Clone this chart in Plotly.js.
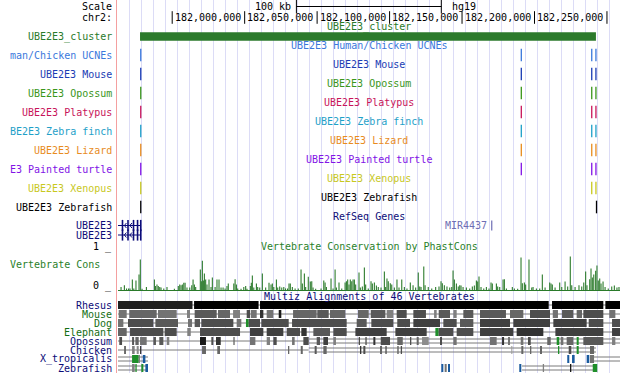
<!DOCTYPE html>
<html><head><meta charset="utf-8">
<script src="https://cdn.plot.ly/plotly-3.0.1.min.js"></script>
<style>html,body{margin:0;padding:0;background:#fff}#chart{width:620px;height:373px}</style>
</head><body><div id="chart"></div>
<script>
// ===================== DATA (chr2, hg19, positions in kb) =====================
const viewStart = 181912.6, viewEnd = 182259.0;
const rulerTicks  = [181950, 182000, 182050, 182100, 182150, 182200, 182250];
const rulerLabels = ['', '182,000,000', '182,050,000', '182,100,000', '182,150,000', '182,200,000', '182,250,000'];
const scaleBarStart = 182035.7, scaleBarKb = 100;

const clusterStart = 181927.8, clusterEnd = 182242.4;

const trackTitles = ['UBE2E3 Human/Chicken UCNEs','UBE2E3 Mouse','UBE2E3 Opossum','UBE2E3 Platypus',
  'UBE2E3 Zebra finch','UBE2E3 Lizard','UBE2E3 Painted turtle','UBE2E3 Xenopus','UBE2E3 Zebrafish'];
const trackLabels = ['man/Chicken UCNEs','UBE2E3 Mouse','UBE2E3 Opossum','UBE2E3 Platypus',
  'BE2E3 Zebra finch','UBE2E3 Lizard','E3 Painted turtle','UBE2E3 Xenopus','UBE2E3 Zebrafish'];
const ucneHumanChicken  = [181928.3, 182190.9, 182239.5, 182242.4];
const ucneMouse         = [181928.3, 182190.9, 182239.5, 182242.4];
const ucneOpossum       = [181928.3, 182190.9, 182239.5, 182242.4];
const ucnePlatypus      = [181928.3, 182190.9, 182239.5, 182242.4];
const ucneZebraFinch    = [181928.3, 182190.9, 182239.5, 182242.4];
const ucneLizard        = [181928.3, 182190.9, 182239.5, 182242.4];
const ucnePaintedTurtle = [181928.3, 182190.9, 182239.5, 182242.4];
const ucneXenopus       = [181928.3, 182239.5, 182242.4];
const ucneZebrafish     = [181928.3, 182242.8];

const geneName = 'UBE2E3';
const geneTxStart = 181900.0, geneTxEnd = 181928.3;
const geneExons = [181915.7, 181919.5, 181923.3, 181926.1, 181928.3];
const mirName = 'MIR4437', mirPos = 182170.5;

const consPos = [
181914.7,181917.0,181918.5,181919.9,181920.9,181922.5,181923.5,181925.0,181927.1,181928.0,
181929.2,181932.2,181937.7,181938.4,181939.5,181940.4,181941.4,181942.3,181944.2,181946.4,
181951.5,181954.2,181955.2,181956.1,181957.0,181958.0,181958.9,181960.2,181962.1,181963.5,
181964.4,181965.3,181966.2,181969.4,181970.1,181970.8,181971.5,181972.2,181973.1,181974.0,
181975.4,181976.8,181977.7,181979.6,181980.9,181982.3,181983.7,181985.1,181986.5,181987.8,
181988.7,181992.5,181993.4,181994.3,181995.2,181997.5,181999.4,182000.7,182001.6,182003.9,
182004.6,182005.3,182006.3,182008.1,182009.0,182010.4,182012.2,182014.5,182016.8,182018.2,
182019.1,182020.1,182021.9,182022.8,182024.2,182025.6,182027.0,
182028.2,182029.6,182030.6,182031.5,182032.9,182034.8,182037.0,182038.9,182039.8,182041.2,
182042.1,182043.9,182045.3,182046.3,182047.2,182049.0,182052.7,182054.6,182055.5,182056.4,
182059.6,182061.0,182062.4,182063.3,182065.1,182067.0,182069.3,182070.2,182071.1,182072.0,
182072.9,182073.9,182074.8,182075.7,182076.6,182078.9,182079.8,182081.2,182082.6,182083.5,
182085.3,182087.2,182088.1,182089.5,182090.9,182092.2,182094.1,182096.4,182097.3,182098.2,
182099.1,182100.5,182101.5,182103.3,182105.1,182106.5,182108.4,182110.2,182112.0,182114.3,
182116.2,182118.0,182119.8,182120.8,182121.7,182123.6,182124.5,182126.7,182129.1,182131.8,
182134.1,182135.5,182136.4,182137.8,182139.6,182141.5,182142.9,
182143.8,182144.7,182146.1,182147.4,182148.4,182149.3,182150.7,182153.0,182155.3,182157.1,
182158.5,182159.9,182160.8,182161.7,182163.1,182165.0,182166.8,182168.6,182170.0,182170.9,
182173.7,182174.6,182176.0,182178.3,182179.2,182180.6,182184.7,182186.1,182188.4,182190.7,
182191.6,182193.0,182193.9,182196.2,182198.1,182199.0,182201.3,182203.6,182205.4,182207.3,
182210.5,182211.4,182212.3,182214.2,182217.4,182218.8,182221.1,182222.9,182224.7,182225.7,
182228.0,182230.7,182232.6,182234.0,182235.3,182236.2,182238.1,182239.0,182239.9,182240.9,
182242.2,182243.1,182244.0,182245.0,182245.9,182247.3,182248.7,182250.9,182253.3,182255.1,
182256.9,182258.3];
const consVal = [
.075,.12,.04,.04,.04,.26,.04,.24,.39,.76,
.03,.075,.26,.10,.14,.10,.075,.06,.04,.075,
.03,.10,.14,.12,.14,.18,.18,.06,.06,.12,
.26,.14,.075,.51,.22,.73,.24,.41,.26,.14,
.26,.075,.31,.075,.26,.26,.06,.06,.04,.10,
.16,.16,.27,.14,.04,.03,.075,.10,.03,.10,
.18,.36,.06,.16,.075,.06,.41,.06,.18,.14,
.16,.075,.26,.06,.09,.06,.075,
.04,.04,.16,.16,.075,.04,.04,.51,.16,.41,
.075,.33,.21,.22,.06,.03,.04,.24,.19,.075,
.29,.04,.51,.06,.19,.04,.19,.22,.26,.14,
.26,.22,.26,.26,.14,.44,.06,.09,.56,.14,
.04,.22,.16,.19,.11,.075,.06,.46,.075,.29,
.22,.17,.14,.06,.26,.06,.26,.075,.04,.19,
.12,.06,.44,.09,.075,.59,.12,.075,.04,.075,
.09,.22,.17,.12,.09,.06,.075,
.49,.26,.16,.09,.12,.11,.075,.06,.04,.09,
.11,.24,.21,.34,.075,.04,.075,.04,.19,.16,
.16,.09,.075,.26,.27,.04,.075,.04,.03,.81,
.17,.19,.14,.76,.06,.075,.04,.04,.39,.06,
.19,.16,.14,.06,.19,.075,.21,.09,.84,.12,
.075,.12,.09,.19,.46,.12,.27,.54,.31,.39,
.48,.61,.24,.29,.16,.21,.075,.04,.09,.11,
.06,.075];

// Multiz blocks: [start, end, gray level (0 black .. 1 white) | 'g' green | 'b' blue]
const mzRhesus = [[181912.6,181964.0,.12],[181965.1,182009.6,0],[182010.6,182209.8,0],[182212.1,182247.5,0],[182248.9,182259.0,0]];
const mzMouse = [[181913.1,181918.6,.45],[181920.4,181939.3,.4],[181940.2,181953.1,.45],[181960.2,181962.3,.5],[181965.5,181980.7,.35],
 [181981.6,181989.9,.4],[181992.0,181996.8,.5],[182001.4,182003.7,.3],[182004.2,182008.3,.45],[182010.6,182012.9,.2],
 [182015.2,182019.8,.45],[182023.5,182025.3,.1],[182033.4,182049.7,.4],[182050.1,182058.0,.35],[182058.9,182069.5,.4],
 [182078.2,182085.6,.4],[182087.0,182097.1,.35],[182098.0,182102.6,.5],[182104.9,182111.8,.3],[182116.4,182125.1,.3],
 [182130.7,182132.5,.5],[182133.9,182141.7,.35],[182144.0,182146.3,.5],[182150.9,182157.8,.35],[182162.4,182180.3,.35],
 [182183.1,182192.3,.4],[182196.9,182210.7,.3],[182212.6,182216.2,.45],[182219.0,182226.8,.35],[182229.1,182232.8,.4],
 [182233.7,182247.5,.3],[182251.6,182255.8,.45]];
const mzDog = [[181912.6,181916.3,.45],[181919.5,181937.0,.3],[181938.4,181954.0,.35],[181960.9,181963.7,.45],[181965.5,181969.2,.35],
 [181970.1,181992.2,.3],[181994.5,181997.7,.45],[182000.9,182002.8,'g'],[182002.8,182010.6,.3],[182011.5,182030.4,.3],
 [182032.7,182070.4,.3],[182077.3,182084.2,.35],[182087.4,182102.6,.3],[182105.3,182114.1,.3],[182116.4,182134.8,.25],
 [182137.1,182146.3,.3],[182148.6,182157.8,.35],[182162.4,182183.1,.25],[182185.4,182210.7,.25],[182213.0,182236.0,.25],
 [182237.4,182247.5,.3],[182253.5,182259.0,.3]];
const mzElephant = [[181912.6,181918.6,.4],[181920.9,181943.9,.3],[181944.8,181953.1,.3],[181960.4,181962.8,.5],[181969.2,181996.8,.3],
 [182003.7,182012.9,.25],[182015.2,182026.7,.25],[182029.0,182038.2,.3],[182039.1,182042.8,.2],[182047.4,182058.9,.35],
 [182061.2,182070.4,.3],[182076.4,182098.0,.25],[182104.0,182125.6,.25],[182131.6,182133.9,'g'],[182133.9,182144.0,.3],
 [182146.3,182157.8,.3],[182162.4,182185.4,.25],[182187.7,182206.1,.2],[182214.4,182247.5,.25],[182253.5,182259.0,.25]];
const mzOpossum = [[181913.5,181915.4,.3],[181922.3,181923.7,.35],[181924.6,181926.9,.4],[181927.8,181932.4,.45],[181937.0,181938.8,.35],
 [181941.1,181943.9,.35],[181946.2,181948.0,.5],[181969.2,181973.3,.1],[181977.0,181978.4,.3],[181980.2,181983.5,.2],
 [181992.2,181993.1,.4],[182003.7,182007.4,.45],[182015.2,182017.5,.5],[182019.8,182022.1,.3],[182032.7,182034.5,.45],
 [182040.5,182044.2,.3],[182049.7,182052.0,.35],[182054.3,182057.5,.25],[182061.2,182063.0,.5],[182078.7,182079.6,.3],
 [182083.3,182084.2,.3],[182088.8,182090.2,.2],[182093.9,182100.3,.3],[182105.3,182109.1,.4],[182114.1,182115.0,.3],
 [182118.7,182120.1,.4],[182122.4,182127.0,.55],[182134.8,182136.2,.3],[182144.0,182146.3,.45],[182169.3,182173.9,.45],
 [182177.6,182179.0,.2],[182181.7,182183.1,.45],[182190.5,182192.3,.45],[182195.5,182197.4,.3],[182208.8,182211.2,.4],
 [182215.3,182217.1,'g'],[182218.1,182219.9,.45],[182222.2,182226.8,.4],[182229.1,182230.5,'g'],[182233.7,182247.5,.35],
 [182253.5,182255.8,.5]];
const mzChicken = [[181916.8,181918.1,.4],[181922.3,181924.1,.5],[181925.5,181926.9,.55],[181927.8,181928.7,.2],[181970.6,181973.3,.4],
 [181981.1,181983.0,.4],[182029.9,182030.8,.4],[182038.7,182040.1,.4],[182048.3,182049.7,.35],[182054.3,182056.6,.4],
 [182079.6,182080.5,.2],[182081.9,182083.3,.3],[182093.4,182094.8,.4],[182097.1,182098.0,.3],[182105.3,182106.3,.4],
 [182107.7,182108.6,.3],[182184.0,182184.7,.6],[182190.9,182192.3,.4],[182196.9,182197.8,.4],[182203.8,182205.2,.4],
 [182216.2,182217.1,'g'],[182223.6,182225.4,.3],[182229.1,182230.5,'g'],[182238.3,182241.1,.4]];
const mzXtropicalis = [[181922.3,181926.9,'g'],[181926.9,181927.8,.5],[181929.7,181931.5,'b'],[182222.6,182224.0,'b'],
 [182225.9,182227.7,'b'],[182236.0,182237.8,'b'],[182238.3,182241.1,.45]];
const mzZebrafish = [[181922.3,181924.1,.5],[181924.6,181925.5,'g'],[181928.7,181930.1,'g'],[181931.5,181933.3,'b'],
 [182135.7,182137.1,'b'],[182138.0,182139.4,.45],[182140.3,182141.7,'b'],[182189.5,182190.9,'b'],[182205.7,182206.6,.5],
 [182224.5,182225.4,.1],[182240.2,182243.3,'g']];
// alignment connector spans: [start, end, 1 single | 2 double]
const lnRhesus = [[181912.6,182259.0,1]];
const lnMouse = [[181912.6,182259.0,1]];
const lnDog = [[181912.6,182259.0,1]];
const lnElephant = [[181912.6,182259.0,1]];
const lnOpossum = [[181912.6,182044.2,1],[182044.2,182259.0,2]];
const lnChicken = [[181912.6,182044.2,1],[182044.2,182242.4,2]];
const lnXtropicalis = [[181912.6,181933.3,2],[182241.1,182259.0,2]];
const lnZebrafish = [[181912.6,181933.3,2],[182191.4,182240.6,2]];
const speciesNames = ['Rhesus','Mouse','Dog','Elephant','Opossum','Chicken','X_tropicalis','Zebrafish'];

// ===================== DRAWING =====================
const W = 620;
const FONT = 'DejaVu Sans Mono';
const NAVY = '#0c0c78', LGREEN = '#146e14', CGREEN = '#2a7f2a';
const traces = [], ann = [], shapes = [];
const px = v => v / W;

function text(t, x, y, color, anchor, xref, xshift) {
  ann.push({text: t, x: x, y: y, xref: xref || 'paper', yref: 'y', xanchor: anchor || 'right', yanchor: 'middle',
    xshift: xshift || 0, showarrow: false, font: {family: FONT, size: 10, color: color || '#000'}});
}
const label = (t, y, c, edge) => text(t, px(edge || 114), y, c, 'right');
const title = (t, y, c) => text(t, px(369), y, c, 'center');
function ticks(xs, y, color, size, width) {
  traces.push({type: 'scatter', mode: 'markers', x: xs, y: xs.map(() => y), hoverinfo: 'skip',
    marker: {symbol: 'line-ns', size: size || 9, color: color, line: {width: width || 1.3, color: color}}});
}

// red divider
shapes.push({type: 'line', xref: 'paper', yref: 'paper', x0: px(116.5), x1: px(116.5), y0: 0, y1: 1,
  line: {color: '#f4a0a0', width: 1}});

// Scale row
label('Scale', 6.5);
traces.push({type: 'scatter', mode: 'lines', x: [scaleBarStart, scaleBarStart + scaleBarKb], y: [6.5, 6.5],
  line: {color: '#000', width: 1}, hoverinfo: 'skip'});
ticks([scaleBarStart, scaleBarStart + scaleBarKb], 6.5, '#000', 10, 1);
text(scaleBarKb + ' kb', scaleBarStart, 6.5, '#000', 'right', 'x', -3);
text('hg19', scaleBarStart + scaleBarKb, 6.5, '#000', 'left', 'x', 9);

// chr2 ruler
label('chr2:', 17.5);
ticks(rulerTicks, 17.5, '#000', 9, 1);
rulerTicks.forEach((t, i) => { if (rulerLabels[i]) text(rulerLabels[i], t, 17.5, '#000', 'right', 'x', -2); });

// cluster
title('UBE2E3_cluster', 27, '#2a7a2a');
label('UBE2E3_cluster', 36.5, '#2a7a2a');
traces.push({type: 'bar', orientation: 'h', base: [clusterStart], x: [clusterEnd - clusterStart], y: [36.5], width: 8.5,
  marker: {color: '#2c7a2c', line: {width: 0}}, hoverinfo: 'skip'});

// UCNE tracks
const ucneSets = [ucneHumanChicken, ucneMouse, ucneOpossum, ucnePlatypus, ucneZebraFinch, ucneLizard, ucnePaintedTurtle, ucneXenopus, ucneZebrafish];
const ucneColors = ['#3a78dc', '#1a3cb4', '#3a961a', '#c8145a', '#1ea0c8', '#e88c1e', '#8214e6', '#c8c81e', '#000000'];
ucneSets.forEach((set, i) => {
  const yt = 45.5 + 19 * i, yr = 55 + 19 * i;
  title(trackTitles[i], yt, ucneColors[i]);
  label(trackLabels[i], yr, ucneColors[i]);
  ticks(set, yr, ucneColors[i], 9, 1.3);
});

// RefSeq genes
title('RefSeq Genes', 216.5, NAVY);
[225.5, 235].forEach(y => {
  label(geneName, y, NAVY);
  traces.push({type: 'scatter', mode: 'lines', x: [geneTxStart, geneTxEnd], y: [y, y], line: {color: NAVY, width: 1}, hoverinfo: 'skip'});
  ticks(geneExons, y, NAVY, 8, 1.6);
  // intron chevrons (minus strand)
  const edges = [geneTxStart].concat(geneExons);
  const cx = [], cy = [];
  for (let k = 0; k < edges.length - 1; k++) {
    const a = Math.max(edges[k], viewStart), b = edges[k + 1];
    const n = Math.floor((b - a) / 3.6);
    for (let j = 0; j < n; j++) {
      const p = a + (b - a) * (j + 0.5) / n - 0.6;
      cx.push(p + 1.4, p, p + 1.4, null); cy.push(y - 2.5, y, y + 2.5, null);
    }
  }
  traces.push({type: 'scatter', mode: 'lines', x: cx, y: cy, line: {color: NAVY, width: 1}, hoverinfo: 'skip'});
});
ticks([mirPos], 225.5, '#6e6eb4', 7, 1.2);
text(mirName, mirPos, 225.5, '#6e6eb4', 'right', 'x', -3);

// Conservation
title('Vertebrate Conservation by PhastCons', 246, CGREEN);
label('1 _', 246.5);
label('Vertebrate Cons', 264, CGREEN, 102);
label('0 _', 286);
traces.push({type: 'bar', x: consPos, y: consVal, xaxis: 'x', yaxis: 'y2', width: 0.75,
  marker: {color: '#2a7a2a', line: {width: 0}}, hoverinfo: 'skip'});
shapes.push({type: 'line', xref: 'x', yref: 'y', x0: viewStart, x1: viewEnd, y0: 290.5, y1: 290.5,
  line: {color: '#2a7a2a', width: 1.2}});

// Multiz
title('Multiz Alignments of 46 Vertebrates', 296, NAVY);
const mzBlocks = [mzRhesus, mzMouse, mzDog, mzElephant, mzOpossum, mzChicken, mzXtropicalis, mzZebrafish];
const mzLines = [lnRhesus, lnMouse, lnDog, lnElephant, lnOpossum, lnChicken, lnXtropicalis, lnZebrafish];
const labelColors = [NAVY, LGREEN, LGREEN, LGREEN, NAVY, NAVY, NAVY, NAVY];
const shade = v => v === 'g' ? '#1f8f2a' : v === 'b' ? '#1a5a9e' : (g => `rgb(${g},${g},${g})`)(Math.round(255 * v));
mzBlocks.forEach((blocks, i) => {
  const yc = 305 + 9 * i;
  label(speciesNames[i], yc, labelColors[i]);
  mzLines[i].forEach(([a, b, t]) => {
    (t === 2 ? [-2, 2] : [0]).forEach(o => shapes.push({type: 'line', layer: 'between', xref: 'x', yref: 'y',
      x0: a, x1: b, y0: yc + o, y1: yc + o, line: {color: '#7a7a7a', width: 1}}));
  });
  traces.push({type: 'bar', orientation: 'h', base: blocks.map(b => b[0]), x: blocks.map(b => b[1] - b[0]),
    y: blocks.map(() => yc), width: 8, marker: {color: blocks.map(b => shade(b[2])), line: {width: 0}}, hoverinfo: 'skip'});
});

const layout = {
  width: 620, height: 373, margin: {l: 0, r: 0, t: 0, b: 0}, paper_bgcolor: '#fff', plot_bgcolor: '#fff',
  showlegend: false, barmode: 'overlay',
  xaxis: {range: [viewStart, viewEnd], domain: [px(118), 1], showgrid: true, gridcolor: '#dcdcf6', gridwidth: 1,
    tick0: 181920.4, dtick: 8.28, showticklabels: false, ticks: '', zeroline: false, showline: false},
  yaxis: {range: [373, 0], domain: [0, 1], showgrid: false, zeroline: false, showticklabels: false, ticks: '', showline: false},
  yaxis2: {range: [0, 1], domain: [83 / 373, 123 / 373], anchor: 'x', showgrid: false, zeroline: false,
    showticklabels: false, ticks: '', showline: false},
  shapes: shapes, annotations: ann
};
Plotly.newPlot('chart', traces, layout, {staticPlot: true, displayModeBar: false});
</script></body></html>
